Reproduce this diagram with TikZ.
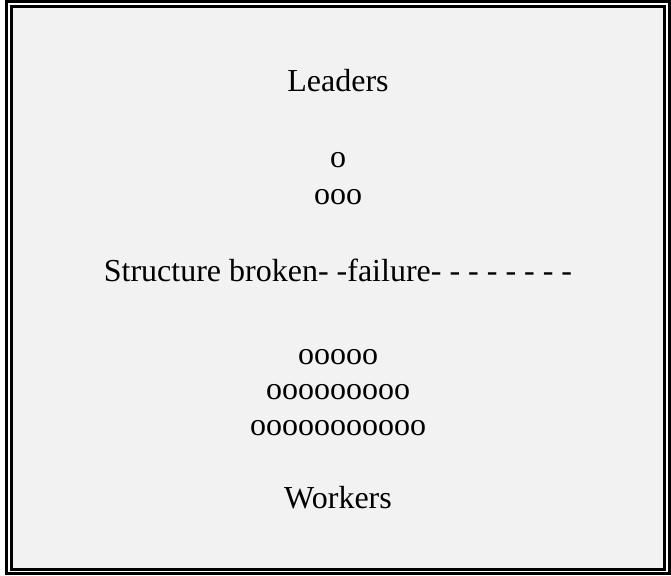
\documentclass[tikz,border=0pt]{standalone}
\usepackage{fontspec}
\setmainfont{Liberation Serif}
\definecolor{panel}{HTML}{F2F2F2}
\begin{document}
\begin{tikzpicture}[x=1pt,y=-1pt,
  txt/.style={anchor=base,inner sep=0pt,font=\fontsize{32}{38}\selectfont},
  frame/.style={draw=black,line width=2.7pt}]
\useasboundingbox (0,0) rectangle (671,575);
\fill[white] (0,0) rectangle (671,575);
\draw[frame] (6.2,1.6) rectangle (669.5,573.6);
\draw[frame,fill=panel] (11.3,6.6) rectangle (664.6,569.5);
\node[txt] (leaders) at (338,92) {Leaders};
\node[txt] (o1) at (338,167) {o};
\node[txt] (o3) at (338,204) {ooo};
\node[txt] (broken) at (338,281) {Structure broken- -failure- - - - - - - -};
\node[txt] (o5) at (338,364) {ooooo};
\node[txt] (o9) at (338,399) {ooooooooo};
\node[txt] (o11) at (338,435) {ooooooooooo};
\node[txt] (workers) at (338,508) {Workers};
\end{tikzpicture}
\end{document}
